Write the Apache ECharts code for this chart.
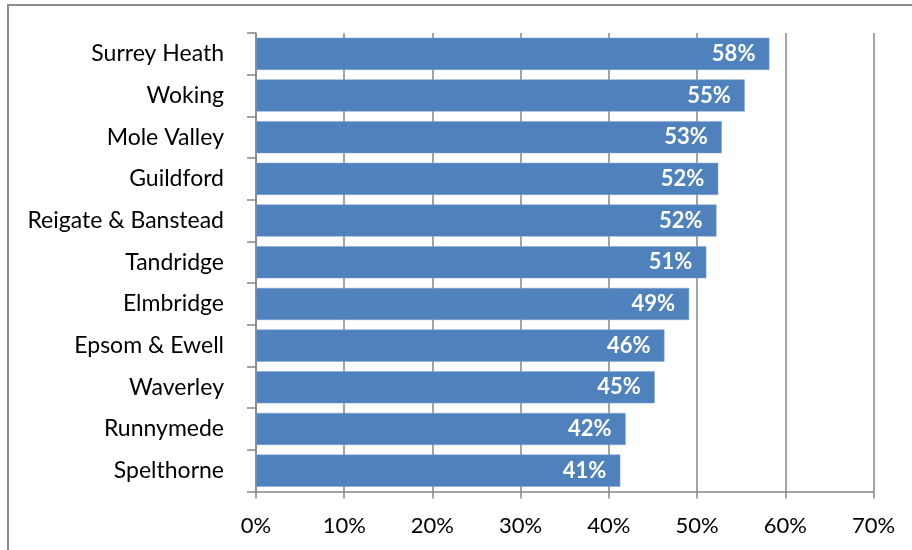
<!DOCTYPE html>
<html><head><meta charset="utf-8">
<script src="https://cdn.jsdelivr.net/npm/echarts@6/dist/echarts.min.js"></script>
<style>html,body{margin:0;padding:0;background:#fff}#c{width:912px;height:550px}</style>
</head><body><div id="c"></div>
<script>
var categories = ["Surrey Heath","Woking","Mole Valley","Guildford","Reigate & Banstead","Tandridge","Elmbridge","Epsom & Ewell","Waverley","Runnymede","Spelthorne"];
var values = [58.2,55.4,52.8,52.4,52.2,51.05,49.1,46.3,45.2,41.9,41.3];
var xTicks = [0,10,20,30,40,50,60,70];

var chart = echarts.init(document.getElementById('c'), null, {renderer:'canvas'});
var font = 'Lato, "Open Sans", sans-serif';
chart.setOption({
  animation:false,
  graphic:[{type:'rect', shape:{x:8,y:5,width:1000,height:1000}, style:{fill:null, stroke:'#8c8c8c', lineWidth:2}, silent:true}],
  grid:{left:256,right:38.5,top:33,bottom:58.5,containLabel:false},
  xAxis:{type:'value',min:xTicks[0],max:xTicks[xTicks.length-1],interval:10,
    axisLine:{show:true,lineStyle:{color:'#868686',width:1.5}},
    axisTick:{show:true,length:7,lineStyle:{color:'#868686',width:1.5}},
    splitLine:{show:true,lineStyle:{color:'#868686',width:1.5}},
    axisLabel:{formatter:function(v){return v+'%';},color:'#000',fontSize:22,fontFamily:font,margin:23}},
  yAxis:{type:'category',data:categories,inverse:true,
    axisLine:{show:true,lineStyle:{color:'#868686',width:1.5}},
    axisTick:{show:true,length:9,lineStyle:{color:'#868686',width:1.5}},
    axisLabel:{color:'#000',fontSize:23,fontFamily:font,margin:32,padding:[3,0,0,0]}},
  series:[{type:'bar',data:values,barCategoryGap:'23%',
    itemStyle:{color:'#4F81BD',borderColor:'#7FA3D3',borderWidth:0.5},
    label:{show:true,position:'insideRight',distance:14,color:'#fff',fontWeight:'bold',fontSize:22,fontFamily:font,
      formatter:function(p){return Math.round(p.value)+'%';}}}]
});
</script></body></html>
